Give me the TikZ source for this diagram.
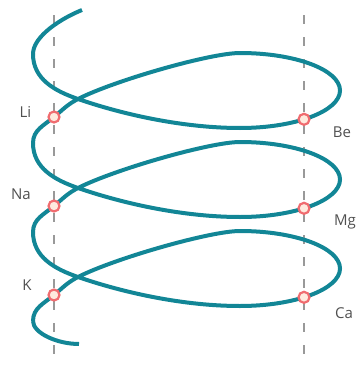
\documentclass[tikz,border=0pt]{standalone}
\usepackage{fontspec}
\setmainfont{Open Sans}
\usepackage{xcolor}
\definecolor{helixteal}{RGB}{18,134,150}
\definecolor{atomred}{RGB}{240,108,112}
\definecolor{atomfill}{RGB}{254,234,222}
\definecolor{labelgray}{RGB}{80,80,80}

\begin{document}
\begin{tikzpicture}[
 x=1pt,y=1pt,
 helix/.style={draw=helixteal,line width=4pt},
 guide/.style={draw=gray!80,line width=2pt,dash pattern=on 9pt off 13pt},
 atom/.style={circle,draw=atomred,fill=atomfill,line width=2.2pt,inner sep=0pt,minimum size=11pt},
 lbl/.style={text=labelgray,font=\fontsize{15}{18}\selectfont,inner sep=0pt,anchor=base}
]
\useasboundingbox (0,0) rectangle (359,-372);
% dashed guides
\coordinate (gl1) at (54,-15);  \coordinate (gl2) at (54,-365);
\coordinate (gr1) at (304,-15); \coordinate (gr2) at (304,-365);
\draw[guide] (gl1)--(gl2);
\draw[guide] (gr1)--(gr2);
% key points of every turn
\coordinate (start) at (82,-10);
\foreach \k in {0,1,2}{
  \coordinate (lft\k) at (33,-54-89*\k);
  \coordinate (crs\k) at (78,-99-89*\k);
  \coordinate (bot\k) at (240,-128-89*\k);
  \coordinate (dl\k) at (54,-117-89*\k);
}
\coordinate (lft3) at (33,-321);
\coordinate (finish) at (79,-344);
% the coil
\draw[helix] (start) .. controls +(-20,-8) and +(0,18) .. (lft0);
\foreach \k [count=\n] in {0,1,2}
  \draw[helix] (lft\k) .. controls +(0,-25) and +(-23.5,8.1) .. (crs\k)
    .. controls +(47.3,-16.3) and +(-55,0) .. (bot\k)
    arc[start angle=-90,end angle=90,x radius=100,y radius=37.5]
    .. controls +(-30,0) and +(35.6,18.2) .. (crs\k)
    .. controls +(-10.4,-5.3) and +(9,7.5) .. (dl\k)
    .. controls +(-10,-8.4) and +(0,13) .. (lft\n);
\draw[helix] (lft3) .. controls +(0,-12) and +(-22,0) .. (finish);
% atoms
\node[atom] (li) at (dl0) {};
\node[atom] (na) at (dl1) {};
\node[atom] (k) at (dl2) {};
\node[atom] (be) at (304,-119.3) {};
\node[atom] (mg) at (304,-208.3) {};
\node[atom] (ca) at (304,-297.3) {};
\node[lbl] (lili) at (25.5,-117) {Li};
\node[lbl] (nana) at (21,-199) {Na};
\node[lbl] (kk) at (27,-290) {K};
\node[lbl] (bebe) at (342,-137) {Be};
\node[lbl] (mgmg) at (345,-225) {Mg};
\node[lbl] (caca) at (344,-318) {Ca};
\end{tikzpicture}
\end{document}
